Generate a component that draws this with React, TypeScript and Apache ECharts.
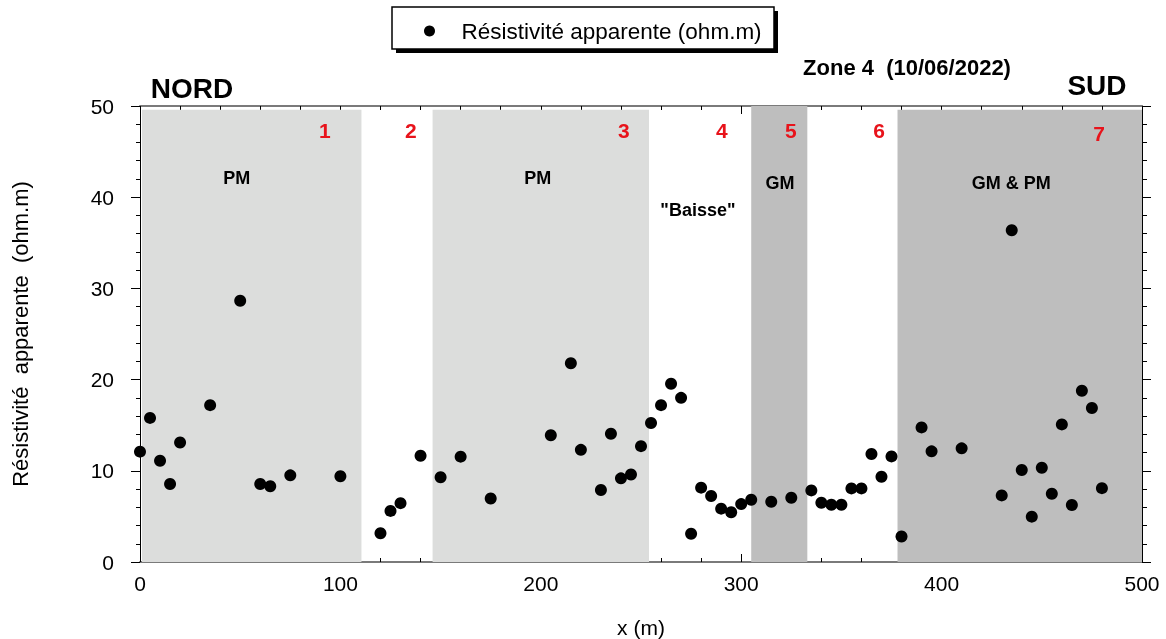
import React, { useEffect, useRef } from "react";
import * as echarts from "echarts";

const xPositions = [0, 5, 10, 15, 20, 35, 50, 60, 65, 75, 100, 120, 125, 130, 140, 150, 160, 175, 205, 215, 220, 230, 235, 240, 245, 250, 255, 260, 265, 270, 275, 280, 285, 290, 295, 300, 305, 315, 325, 335, 340, 345, 350, 355, 360, 365, 370, 375, 380, 390, 395, 410, 430, 435, 440, 445, 450, 455, 460, 465, 470, 475, 480];
const resistivity = [12.1, 15.8, 11.1, 8.55, 13.1, 17.2, 28.65, 8.55, 8.3, 9.5, 9.4, 3.15, 5.6, 6.45, 11.65, 9.3, 11.55, 6.97, 13.9, 21.8, 12.3, 7.9, 14.07, 9.17, 9.6, 12.7, 15.24, 17.2, 19.55, 18.0, 3.1, 8.15, 7.23, 5.85, 5.45, 6.35, 6.83, 6.6, 7.05, 7.85, 6.5, 6.28, 6.28, 8.07, 8.07, 11.84, 9.35, 11.58, 2.8, 14.76, 12.13, 12.46, 7.3, 36.37, 10.08, 4.97, 10.34, 7.49, 15.09, 6.25, 18.78, 16.88, 8.1];

const zoneStarts = [1, 146, 305, 378];
const zoneEnds = [110.5, 254, 333, 500];
const zoneTops = [49.6, 49.6, 50, 49.6];
const zoneShades = ["light", "light", "dark", "dark"];

const zoneNumbers = ["1", "2", "3", "4", "5", "6", "7"];
const zoneNumberX = [92.2, 135.1, 241.5, 290.4, 324.8, 368.8, 478.6];
const zoneNumberY = [47.3, 47.3, 47.3, 47.3, 47.3, 47.3, 47.0];

const zoneLabels = ["PM", "PM", "\"Baisse\"", "GM", "GM & PM"];
const zoneLabelX = [48.3, 198.5, 278.4, 319.4, 434.7];
const zoneLabelY = [42.1, 42.1, 38.6, 41.6, 41.6];

const SERIES_NAME = "Résistivité apparente (ohm.m)";
const FONT = "'Liberation Sans', Arial, Helvetica, sans-serif";

export default function App() {
  const ref = useRef<HTMLDivElement>(null);
  useEffect(() => {
    if (!ref.current) return;
    const chart = echarts.init(ref.current, null, { renderer: "svg" });
    const points = xPositions.map((x, i) => [x, resistivity[i]]);
    const areas = zoneStarts.map((s, i) => [
      { xAxis: s, yAxis: 0, itemStyle: { color: zoneShades[i] === "light" ? "#dcdddc" : "#bebebe" } },
      { xAxis: zoneEnds[i], yAxis: zoneTops[i] },
    ]);
    const numberMarks = zoneNumbers.map((t, i) => ({
      coord: [zoneNumberX[i], zoneNumberY[i]],
      value: t,
      label: { color: "#e8131b", fontSize: 21, fontWeight: "bold" },
    }));
    const labelMarks = zoneLabels.map((t, i) => ({
      coord: [zoneLabelX[i], zoneLabelY[i]],
      value: t,
      label: { color: "#000", fontSize: 18, fontWeight: "bold" },
    }));
    const axisCommon = {
      min: 0,
      splitLine: { show: false },
    };
    chart.setOption({
      animation: false,
      textStyle: { fontFamily: FONT },
      grid: { left: 140, right: 24, top: 106, bottom: 77, containLabel: false, outerBoundsMode: "none" },
      legend: {
        data: [SERIES_NAME],
        left: 424,
        top: 19,
        padding: 0,
        itemWidth: 54,
        itemHeight: 11,
        z: 5,
        textStyle: { fontSize: 22.5, color: "#000", fontFamily: FONT, lineHeight: 24 },
      },
      xAxis: [
        {
          ...axisCommon,
          type: "value",
          position: "bottom",
          max: 500,
          interval: 100,
          axisLine: { show: true, onZero: false, lineStyle: { color: "#7a7a7a", width: 2 } },
          axisTick: { show: true, inside: true, length: 8, lineStyle: { color: "#000" } },
          minorTick: { show: true, splitNumber: 5, length: 4, lineStyle: { color: "#000" } },
          axisLabel: { fontSize: 21, color: "#000", margin: 11, fontFamily: FONT },
          name: "x (m)",
          nameLocation: "middle",
          nameGap: 55,
          nameTextStyle: { fontSize: 21, color: "#000", fontFamily: FONT },
        },
        {
          ...axisCommon,
          type: "value",
          position: "top",
          max: 500,
          interval: 100,
          axisLine: { show: true, onZero: false, lineStyle: { color: "#7a7a7a", width: 2 } },
          axisTick: { show: true, inside: true, length: 8, lineStyle: { color: "#000" } },
          minorTick: { show: true, splitNumber: 5, length: 4, lineStyle: { color: "#000" } },
          axisLabel: { show: false },
        },
      ],
      yAxis: [
        {
          ...axisCommon,
          type: "value",
          position: "left",
          max: 50,
          interval: 10,
          axisLine: { show: true, onZero: false, lineStyle: { color: "#000", width: 1 } },
          axisTick: { show: true, inside: false, length: 9, lineStyle: { color: "#000" } },
          minorTick: { show: true, splitNumber: 5, length: 4, lineStyle: { color: "#000" } },
          axisLabel: { fontSize: 21, color: "#000", margin: 26, fontFamily: FONT },
          name: "Résistivité  apparente  (ohm.m)",
          nameLocation: "middle",
          nameGap: 109,
          nameRotate: 90,
          nameTextStyle: { fontSize: 22, color: "#000", fontFamily: FONT },
        },
        {
          ...axisCommon,
          type: "value",
          position: "right",
          max: 50,
          interval: 10,
          axisLine: { show: true, onZero: false, lineStyle: { color: "#000", width: 1 } },
          axisTick: { show: true, inside: false, length: 9, lineStyle: { color: "#000" } },
          minorTick: { show: true, splitNumber: 5, length: 5, lineStyle: { color: "#000" } },
          axisLabel: { show: false },
        },
      ],
      series: [
        {
          name: "zones",
          type: "scatter",
          data: [],
          z: 1,
          silent: true,
          markArea: { silent: true, data: areas, itemStyle: { opacity: 1 } },
          markPoint: {
            silent: true,
            symbol: "circle",
            symbolSize: 0,
            data: [...numberMarks, ...labelMarks],
            label: { show: true, position: "inside", formatter: "{c}", fontFamily: FONT },
          },
        },
        {
          name: SERIES_NAME,
          type: "scatter",
          xAxisIndex: 0,
          yAxisIndex: 0,
          z: 3,
          symbol: "circle",
          symbolSize: 12,
          itemStyle: { color: "#000", opacity: 1 },
          data: points,
        },
      ],
      graphic: [
        { type: "rect", z: 1, shape: { x: 396, y: 11, width: 382, height: 42 }, style: { fill: "#000" } },
        { type: "rect", z: 2, shape: { x: 392, y: 7, width: 382, height: 42 }, style: { fill: "#fff", stroke: "#000", lineWidth: 1.5 } },
        { type: "text", z: 3, x: 192, y: 88, style: { text: "NORD", font: `bold 28px ${FONT}`, fill: "#000", textAlign: "center", textVerticalAlign: "middle" } },
        { type: "text", z: 3, x: 1097, y: 85, style: { text: "SUD", font: `bold 28px ${FONT}`, fill: "#000", textAlign: "center", textVerticalAlign: "middle" } },
        { type: "text", z: 3, x: 907, y: 67, style: { text: "Zone 4  (10/06/2022)", font: `bold 22px ${FONT}`, fill: "#000", textAlign: "center", textVerticalAlign: "middle" } },
      ],
    });
    return () => chart.dispose();
  }, []);
  return <div ref={ref} style={{ position: "fixed", left: 0, top: 0, width: 1166, height: 639 }} />;
}
